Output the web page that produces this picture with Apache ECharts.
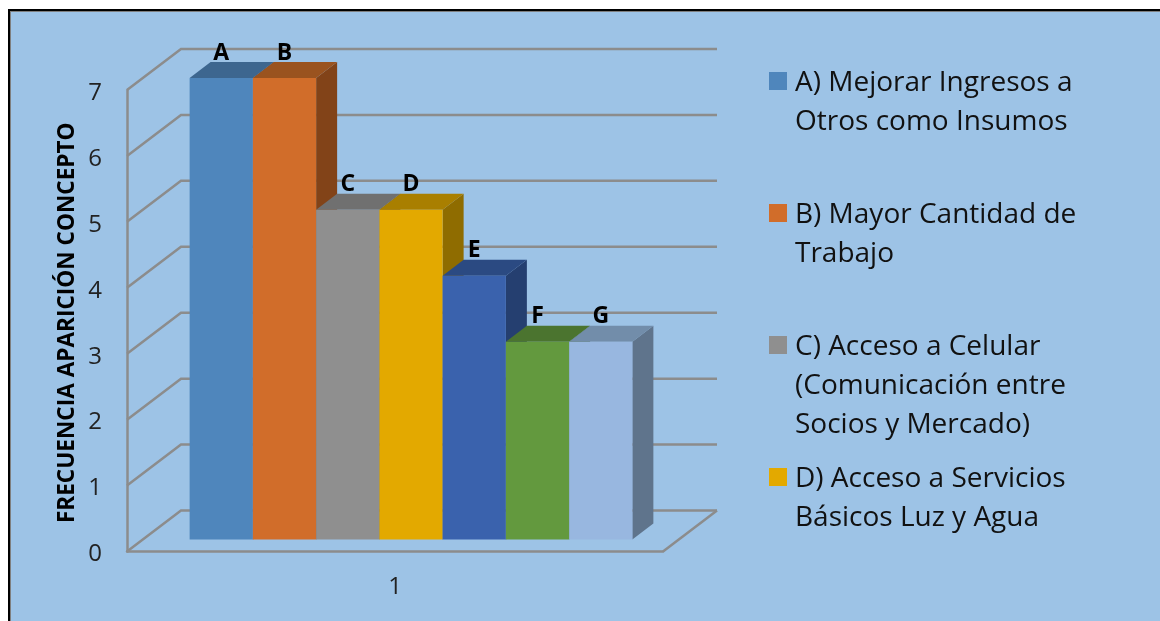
<!DOCTYPE html>
<html>
<head>
<meta charset="utf-8">
<style>html,body{margin:0;padding:0;background:#fff}#chart{width:1160px;height:621px}</style>
<script src="https://cdn.jsdelivr.net/npm/echarts@6/dist/echarts.min.js"></script>
</head>
<body>
<div id="chart"></div>
<script>
// Chart content
const categories = ['1'];
const barLetters = ['A', 'B', 'C', 'D', 'E', 'F', 'G'];
const barValues = [7, 7, 5, 5, 4, 3, 3];
const yTicks = [0, 1, 2, 3, 4, 5, 6, 7];
const axisTitle = 'FRECUENCIA APARICIÓN CONCEPTO';
const legendFirstLines = ['A) Mejorar Ingresos a', 'B) Mayor Cantidad de', 'C) Acceso a Celular', 'D) Acceso a Servicios'];
const legendMoreLines = [['Otros como Insumos'], ['Trabajo'], ['(Comunicación entre', 'Socios y Mercado)'], ['Básicos Luz y Agua']];

// Face colours of each 3D bar
const frontColors = ['#4f86bc', '#d16d2a', '#8f8f8f', '#e3a900', '#3a62ad', '#63993e', '#98b7e0'];
const topColors = ['#3d668f', '#9a531f', '#707070', '#a97f00', '#2b4a82', '#4b742f', '#728daa'];
const sideColors = ['#2f4f70', '#824318', '#585858', '#8f6c00', '#253f70', '#3e6027', '#5f748c'];

// Oblique projection, in pixels
const FONT = '"Open Sans", sans-serif';
const WALL_DX = 54, WALL_DY = -41;
const BAR_SHIFT_DX = 16, BAR_SHIFT_DY = -12;
const BAR_DX = 21, BAR_DY = -16;
const BAR_WIDTH_RATIO = 0.118;
const GRID_COLOR = '#8c8c8c';
const GRID_WIDTH = 2.5;

function renderWallLine(params, api) {
  const p = api.coord([0, api.value(1)]);
  const band = api.size([1, 0])[0];
  const elements = [{
    type: 'polyline',
    shape: { points: [[p[0] - band / 2, p[1]], [p[0] - band / 2 + WALL_DX, p[1] + WALL_DY], [p[0] + band / 2 + WALL_DX, p[1] + WALL_DY]] },
    style: { stroke: GRID_COLOR, lineWidth: GRID_WIDTH, fill: null }
  }];
  if (api.value(1) === 0) {
    elements.push({
      type: 'line',
      shape: { x1: p[0] + band / 2 + WALL_DX, y1: p[1] + WALL_DY, x2: p[0] + band / 2, y2: p[1] },
      style: { stroke: GRID_COLOR, lineWidth: GRID_WIDTH }
    });
  }
  return { type: 'group', children: elements };
}

function makeBarRenderer(i) {
  return function (params, api) {
    const top = api.coord([0, api.value(1)]);
    const base = api.coord([0, 0]);
    const band = api.size([1, 0])[0];
    const w = band * BAR_WIDTH_RATIO;
    const x0 = top[0] + BAR_SHIFT_DX + (i - barValues.length / 2) * w;
    const x1 = x0 + w;
    const yT = top[1] + BAR_SHIFT_DY;
    const yB = base[1] + BAR_SHIFT_DY;
    return {
      type: 'group',
      children: [
        { type: 'polygon', shape: { points: [[x1, yT], [x1 + BAR_DX, yT + BAR_DY], [x1 + BAR_DX, yB + BAR_DY], [x1, yB]] }, style: { fill: sideColors[i] } },
        { type: 'polygon', shape: { points: [[x0, yT], [x0 + BAR_DX, yT + BAR_DY], [x1 + BAR_DX, yT + BAR_DY], [x1, yT]] }, style: { fill: topColors[i] } },
        { type: 'rect', shape: { x: x0, y: yT, width: w, height: yB - yT }, style: { fill: frontColors[i] } },
        {
          type: 'text',
          style: {
            text: barLetters[i], x: x0 + w / 2, y: yT + BAR_DY - 9,
            align: 'center', verticalAlign: 'middle',
            font: 'bold 23px ' + FONT, fill: '#000'
          }
        }
      ]
    };
  };
}

const series = [{
  type: 'custom',
  name: 'grid',
  silent: true,
  renderItem: renderWallLine,
  data: yTicks.map(v => [0, v])
}].concat(barValues.map((v, i) => ({
  type: 'custom',
  name: i < legendFirstLines.length ? legendFirstLines[i] : barLetters[i],
  itemStyle: { color: frontColors[i] },
  renderItem: makeBarRenderer(i),
  data: [[0, v]]
})));

// Panel frame and the wrapped lines of the legend entries
const LEGEND_TEXT_CENTER = 83, LEGEND_PITCH = 132, LINE_HEIGHT = 39, LEGEND_ROW = 30;
const graphics = [
  { type: 'rect', z: -3, shape: { x: 8, y: 9, width: 1200, height: 700 }, style: { fill: '#000' } },
  { type: 'rect', z: -2, shape: { x: 10, y: 11, width: 1200, height: 700 }, style: { fill: '#7f7f7f' } },
  { type: 'rect', z: -1, shape: { x: 11, y: 12, width: 1200, height: 700 }, style: { fill: '#9dc3e6' } }
];
legendMoreLines.forEach((lines, i) => {
  lines.forEach((text, j) => {
    graphics.push({
      type: 'text', z: 5,
      style: {
        text, x: 795, y: LEGEND_TEXT_CENTER + LEGEND_PITCH * i + LINE_HEIGHT * (j + 1),
        verticalAlign: 'middle', font: '28px ' + FONT, fill: '#111'
      }
    });
  });
});

const chart = echarts.init(document.getElementById('chart'), null, { renderer: 'canvas' });
chart.setOption({
  animation: false,
  backgroundColor: '#fff',
  graphic: graphics,
  grid: { left: 127, right: 497, top: 90, height: 461.5 },
  xAxis: {
    type: 'category',
    data: categories,
    axisLine: { show: true, lineStyle: { color: GRID_COLOR, width: GRID_WIDTH } },
    axisTick: { show: false },
    axisLabel: { margin: 24, fontFamily: FONT, fontSize: 24, color: '#222' },
    splitLine: { show: false }
  },
  yAxis: {
    type: 'value',
    min: 0,
    max: 7,
    interval: 1,
    name: axisTitle,
    nameLocation: 'middle',
    nameRotate: 90,
    nameGap: 48,
    nameTextStyle: { fontFamily: FONT, fontWeight: 'bold', fontSize: 22.6, color: '#000', padding: [0, 4, 0, 0] },
    axisLine: { show: true, lineStyle: { color: GRID_COLOR, width: GRID_WIDTH } },
    axisTick: { show: false },
    axisLabel: { margin: 25, fontFamily: FONT, fontSize: 24, color: '#222', verticalAlign: 'top', lineHeight: 6 },
    splitLine: { show: false }
  },
  legend: {
    orient: 'vertical',
    left: 769,
    top: LEGEND_TEXT_CENTER - LEGEND_ROW / 2,
    padding: 0,
    itemWidth: 18,
    itemHeight: 22,
    itemGap: LEGEND_PITCH - LEGEND_ROW,
    // Square sits at the top of a taller box, so the label centres slightly below it
    icon: 'path://M0 0H18V18H0ZM0 22L0 22Z',
    selectedMode: false,
    data: legendFirstLines,
    textStyle: { fontFamily: FONT, fontSize: 28, lineHeight: LEGEND_ROW, color: '#111', padding: [0, 0, 0, 3] }
  },
  series
});
</script>
</body>
</html>
